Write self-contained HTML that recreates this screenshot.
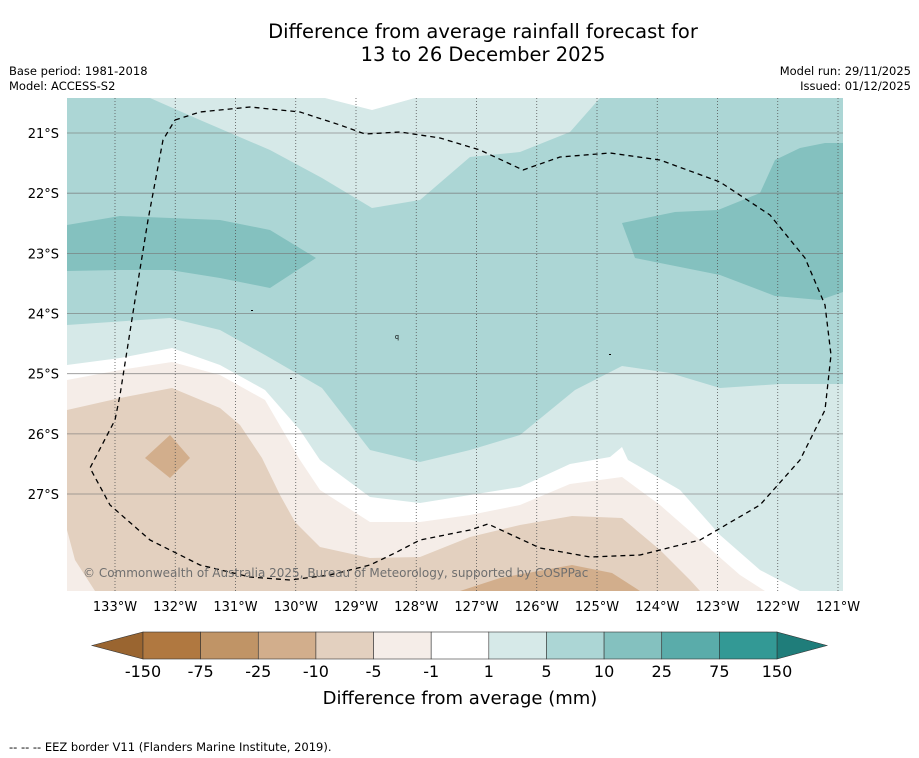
<!DOCTYPE html>
<html><head><meta charset="utf-8"><style>
body{margin:0;background:#fff;width:919px;height:758px;overflow:hidden;font-family:"Liberation Sans","DejaVu Sans",sans-serif}
svg{position:absolute;left:0;top:0}
</style></head><body>
<svg width="919" height="758" viewBox="0 0 919 758">
<defs><clipPath id="pc"><rect x="67" y="98" width="776" height="493"/></clipPath></defs>
<text x="483" y="38" text-anchor="middle" font-size="19.5" fill="#000" font-family="DejaVu Sans, sans-serif">Difference from average rainfall forecast for</text>
<text x="483" y="61" text-anchor="middle" font-size="19.5" fill="#000" font-family="DejaVu Sans, sans-serif">13 to 26 December 2025</text>
<text x="9" y="75" font-size="11.5" font-family="DejaVu Sans, sans-serif">Base period: 1981-2018</text>
<text x="9" y="90" font-size="11.5" font-family="DejaVu Sans, sans-serif">Model: ACCESS-S2</text>
<text x="911" y="75" text-anchor="end" font-size="11.5" font-family="DejaVu Sans, sans-serif">Model run: 29/11/2025</text>
<text x="911" y="90" text-anchor="end" font-size="11.5" font-family="DejaVu Sans, sans-serif">Issued: 01/12/2025</text>
<g id="map" clip-path="url(#pc)"></g>
<g id="grid"></g>
<g id="axes"></g>
<g id="cbar"></g>
<text x="460" y="704" text-anchor="middle" font-size="18" font-family="DejaVu Sans, sans-serif">Difference from average (mm)</text>
<text x="9" y="751" font-size="11.5" font-family="DejaVu Sans, sans-serif">--  --  -- EEZ border V11 (Flanders Marine Institute, 2019).</text>
</svg>
<script>
const levels=["-150","-75","-25","-10","-5","-1","1","5","10","25","75","150"];
const colors=["#b07840","#c09466","#d2ae8c","#e3d0bf","#f5ede8","#ffffff","#d6e9e8","#acd6d5","#84c1bf","#5aacaa","#339995"];
const lonTicks=[133,132,131,130,129,128,127,126,125,124,123,122,121];
const latTicks=[21,22,23,24,25,26,27];
const lowColor="#9a6530",highColor="#1f7d7a";
const NS="http://www.w3.org/2000/svg";
const px=l=>115+(133-l)*60.25, py=l=>133+(l-21)*60.17;
function mk(t,a,p){const e=document.createElementNS(NS,t);for(const k in a)e.setAttribute(k,a[k]);p.appendChild(e);return e;}
const map=document.getElementById('map');
const shapes=[
 ["#d6e9e8","67,98 843,98 843,591 67,591"],
 ["#acd6d5","67,98 150,98 200,120 270,150 322,178 372,208 420,200 470,157 520,152 570,132 600,98 843,98 843,384 780,384 720,388 670,373 622,366 575,390 520,435 470,450 420,462 370,450 322,388 265,355 220,330 170,318 67,325"],
 ["#84c1bf","67,225 120,216 220,220 270,230 316,258 270,288 220,278 170,270 120,270 67,271"],
 ["#84c1bf","622,223 675,212 718,210 760,193 775,160 800,148 825,143 843,143 843,292 820,300 775,296 720,275 680,267 635,258"],
 ["#ffffff","325,98 372,110 415,98"],
 ["#ffffff","67,365 120,358 172,348 220,365 265,390 300,430 320,460 370,497 420,503 470,495 520,487 570,464 610,457 622,447 628,460 680,490 720,535 760,570 800,591 67,591"],
 ["#f5ede8","67,380 120,370 172,362 220,375 265,400 300,460 320,490 370,522 420,522 470,515 520,505 570,484 622,477 660,505 700,540 740,575 765,591 67,591"],
 ["#e3d0bf","67,410 120,398 172,388 220,408 240,425 262,458 280,495 295,522 320,547 370,558 420,557 470,537 520,525 572,516 622,518 660,550 690,580 700,591 95,591 75,560 67,530"],
 ["#d2ae8c","145,458 170,435 190,458 170,478"],
 ["#d2ae8c","460,591 500,578 572,565 612,573 640,591"]
];
shapes.forEach((s,i)=>{const e=mk('polygon',{points:s[1],fill:s[0]},map);

});
const grid=document.getElementById('grid'),axes=document.getElementById('axes');
lonTicks.forEach(l=>{const x=px(l);
 const g=mk('line',{x1:x,x2:x,y1:98,y2:591,stroke:'#555','stroke-width':0.8,'stroke-dasharray':'1,2'},grid);
 
 
 const t=mk('text',{x:x,y:611,'text-anchor':'middle','font-size':13,'font-family':'DejaVu Sans, sans-serif'},axes);t.textContent=l+'°W';
 
 });
latTicks.forEach(l=>{const y=py(l);
 const g=mk('line',{x1:67,x2:843,y1:y,y2:y,stroke:'#777','stroke-width':0.8,'stroke-opacity':0.8},grid);
 
 
 const t=mk('text',{x:59,y:y+5,'text-anchor':'end','font-size':13,'font-family':'DejaVu Sans, sans-serif'},axes);t.textContent=l+'°S';
 
 });
const eez="175,120 200,112 250,107 300,112 340,125 365,134 400,132 440,138 480,150 523,170 560,157 610,153 660,160 720,182 770,215 805,258 825,305 831,355 825,410 800,460 760,505 700,540 640,555 590,557 540,548 488,524 470,530 420,540 395,553 370,565 330,575 290,580 250,577 200,565 150,540 110,505 90,468 115,420 120,395 135,300 148,220 163,140 175,120";
const ez=mk('polyline',{points:eez,fill:'none',stroke:'#000','stroke-width':1.3,'stroke-dasharray':'5,4','stroke-linejoin':'round'},grid);


[[251,310],[290,378],[609,354]].forEach(p=>{const d=mk('rect',{x:p[0],y:p[1],width:2,height:1,fill:'#000'},map);});
const q=mk('text',{x:395,y:339,'font-size':7,fill:'#000'},map);q.textContent='q';


const cp=mk('text',{x:83,y:577,'font-size':12,fill:'#6f6f6f','font-family':'DejaVu Sans, sans-serif'},grid);
cp.textContent='© Commonwealth of Australia 2025, Bureau of Meteorology, supported by COSPPac';


const cb=document.getElementById('cbar');
const x0=143,x1=777,w=(x1-x0)/colors.length,y0=632,h=27;
const lt=mk('polygon',{points:`92,${y0+h/2} ${x0},${y0} ${x0},${y0+h}`,fill:lowColor,stroke:'#333','stroke-width':0.6},cb);

const ht=mk('polygon',{points:`827,${y0+h/2} ${x1},${y0} ${x1},${y0+h}`,fill:highColor,stroke:'#333','stroke-width':0.6},cb);

colors.forEach((c,i)=>{const r=mk('rect',{x:x0+i*w,y:y0,width:w,height:h,fill:c,stroke:'#333','stroke-width':0.6},cb);
 
 });
levels.forEach((l,i)=>{const t=mk('text',{x:x0+i*w,y:677,'text-anchor':'middle','font-size':16,'font-family':'DejaVu Sans, sans-serif'},cb);t.textContent=l;
 
 });
</script>
</body></html>
